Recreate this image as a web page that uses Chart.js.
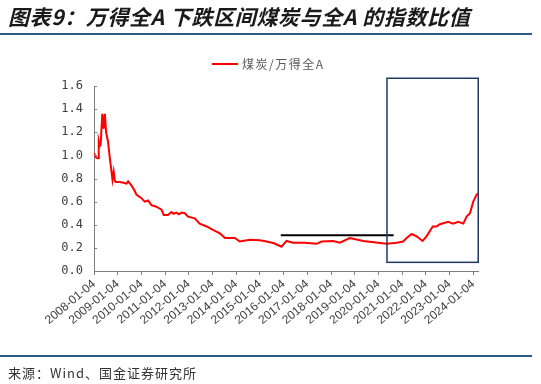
<!DOCTYPE html>
<html lang="zh">
<head>
<meta charset="utf-8">
<script src="https://cdn.jsdelivr.net/npm/chart.js@4/dist/chart.umd.min.js"></script>
<style>
  body { margin: 0; background: #fff; }
  #page { position: relative; width: 541px; height: 384px; overflow: hidden; font-family: "Noto Sans CJK SC", sans-serif; }
  #zone { position: absolute; left: 0; top: 0; }
  .titre { position: absolute; left: 8px; top: 1px; font-size: 21px; font-weight: bold; font-style: italic; color: #1a1a1a; white-space: nowrap; letter-spacing: 0.6px; }
  .filet { position: absolute; left: 0; width: 532px; height: 2px; background: #2e5a87; }
  .source { position: absolute; left: 8px; top: 363px; font-size: 13px; color: #333; white-space: nowrap; letter-spacing: 1px; }
  .legende-trait { position: absolute; left: 212px; top: 63px; width: 26px; height: 2px; background: #ff0000; }
  .legende-texte { position: absolute; left: 242px; top: 55px; font-size: 12px; color: #595959; letter-spacing: 1.5px; white-space: nowrap; }
</style>
</head>
<body>
<div id="page">
  <canvas id="zone" width="541" height="384"></canvas>
  <div class="titre">图表9：万得全A 下跌区间煤炭与全A 的指数比值</div>
  <div class="filet" style="top:33px"></div>
  <div class="legende-trait"></div>
  <div class="legende-texte">煤炭/万得全A</div>
  <div class="filet" style="top:355px"></div>
  <div class="source">来源：Wind、国金证券研究所</div>
</div>
<script>
// Dates (années décimales) et valeurs du ratio
const annees = [
  2008.00, 2008.05, 2008.10, 2008.17, 2008.20, 2008.24, 2008.28, 2008.35, 2008.41, 2008.46,
  2008.51, 2008.59, 2008.66, 2008.78, 2008.83, 2008.88, 2008.92, 2009.08, 2009.20, 2009.37,
  2009.44, 2009.58, 2009.70, 2009.79, 2010.00, 2010.14, 2010.28, 2010.42, 2010.63, 2010.85,
  2010.94, 2011.12, 2011.20, 2011.27, 2011.35, 2011.48, 2011.58, 2011.69, 2011.83, 2011.97,
  2012.25, 2012.46, 2012.75, 2013.02, 2013.31, 2013.45, 2013.52, 2013.80, 2013.94, 2014.15,
  2014.57, 2015.00, 2015.28, 2015.60, 2015.91, 2016.12, 2016.40, 2016.89, 2017.39, 2017.60,
  2018.09, 2018.37, 2018.79, 2019.36, 2019.99, 2020.34, 2020.77, 2021.04, 2021.19, 2021.40,
  2021.61, 2021.86, 2022.03, 2022.29, 2022.45, 2022.59, 2022.94, 2023.15, 2023.37, 2023.58,
  2023.72, 2023.86, 2024.00, 2024.14, 2024.18
];
const ratio = [
  1.02, 0.99, 0.98, 0.975, 1.12, 1.08, 1.09, 1.36, 1.23, 1.36,
  1.20, 1.12, 0.99, 0.79, 0.86, 0.78, 0.77, 0.77, 0.765, 0.755,
  0.775, 0.74, 0.70, 0.66, 0.63, 0.60, 0.61, 0.57, 0.556, 0.53,
  0.485, 0.485, 0.50, 0.51, 0.495, 0.505, 0.49, 0.505, 0.50, 0.47,
  0.455, 0.41, 0.385, 0.355, 0.325, 0.30, 0.285, 0.285, 0.285, 0.255,
  0.27, 0.265, 0.255, 0.24, 0.21, 0.26, 0.245, 0.245, 0.235, 0.255,
  0.26, 0.245, 0.285, 0.26, 0.245, 0.235, 0.245, 0.255, 0.285, 0.32,
  0.30, 0.26, 0.30, 0.385, 0.385, 0.405, 0.425, 0.41, 0.425, 0.41,
  0.47, 0.50, 0.60, 0.66, 0.67
];
// Graduations de l'axe des x
const anneesTicks = [2008, 2009, 2010, 2011, 2012, 2013, 2014, 2015, 2016, 2017, 2018, 2019, 2020, 2021, 2022, 2023, 2024];
// Trait noir horizontal
const traitX = [2015.88, 2020.64];
const traitY = [0.31, 0.31];
// Cadre bleu (période de baisse)
const cadreX = [2020.36, 2024.21];
const cadreY = [0.075, 1.667];

// Plugin : cadre bleu et petites graduations de l'axe y vers l'intérieur
const pluginCadre = {
  id: "cadre",
  afterDatasetsDraw(chart) {
    const { ctx, scales } = chart;
    const x = scales.x;
    const y = scales.y;
    ctx.save();
    ctx.strokeStyle = "#1f3864";
    ctx.lineWidth = 1.5;
    const gauche = x.getPixelForValue(cadreX[0]);
    const droite = x.getPixelForValue(cadreX[1]);
    const haut = y.getPixelForValue(cadreY[1]);
    const bas = y.getPixelForValue(cadreY[0]);
    ctx.strokeRect(gauche, haut, droite - gauche, bas - haut);
    ctx.strokeStyle = "#808080";
    ctx.lineWidth = 1;
    for (const t of y.ticks) {
      const py = Math.round(y.getPixelForValue(t.value)) + 0.5;
      ctx.beginPath();
      ctx.moveTo(x.left, py);
      ctx.lineTo(x.left + 3, py);
      ctx.stroke();
    }
    ctx.restore();
  },
};

new Chart(document.querySelector("#zone"), {
  type: "line",
  data: {
    datasets: [
      {
        label: "煤炭/万得全A",
        data: annees.map((a, i) => ({ x: a, y: ratio[i] })),
        borderColor: "#ff0000",
        borderWidth: 2,
        pointRadius: 0,
        tension: 0,
      },
      {
        label: "trait",
        data: traitX.map((a, i) => ({ x: a, y: traitY[i] })),
        borderColor: "#000000",
        borderWidth: 2,
        pointRadius: 0,
      },
    ],
  },
  options: {
    responsive: false,
    animation: false,
    layout: { padding: { left: 0, top: 86, right: 63, bottom: 33 } },
    plugins: { legend: { display: false }, tooltip: { enabled: false } },
    scales: {
      x: {
        type: "linear",
        min: 2008,
        max: 2024.2,
        afterBuildTicks: (scale) => {
          scale.ticks = anneesTicks.map((v) => ({ value: v }));
        },
        afterFit: (scale) => {
          scale.height = 80;
        },
        ticks: {
          callback: (v) => v + "-01-04",
          autoSkip: false,
          minRotation: 40,
          maxRotation: 40,
          padding: 2,
          color: "#404040",
          font: { family: "Liberation Sans", size: 12 },
        },
        grid: { drawOnChartArea: false, drawTicks: true, tickLength: 4, color: "#808080" },
        border: { color: "#808080" },
      },
      y: {
        min: 0,
        max: 1.6,
        afterFit: (scale) => {
          scale.width = 94;
        },
        ticks: {
          stepSize: 0.2,
          callback: (v) => v.toFixed(1),
          padding: 11,
          color: "#404040",
          font: { family: "DejaVu Sans Mono", size: 12 },
        },
        grid: { drawOnChartArea: false, drawTicks: false },
        border: { color: "#808080" },
      },
    },
  },
  plugins: [pluginCadre],
});
</script>
</body>
</html>
